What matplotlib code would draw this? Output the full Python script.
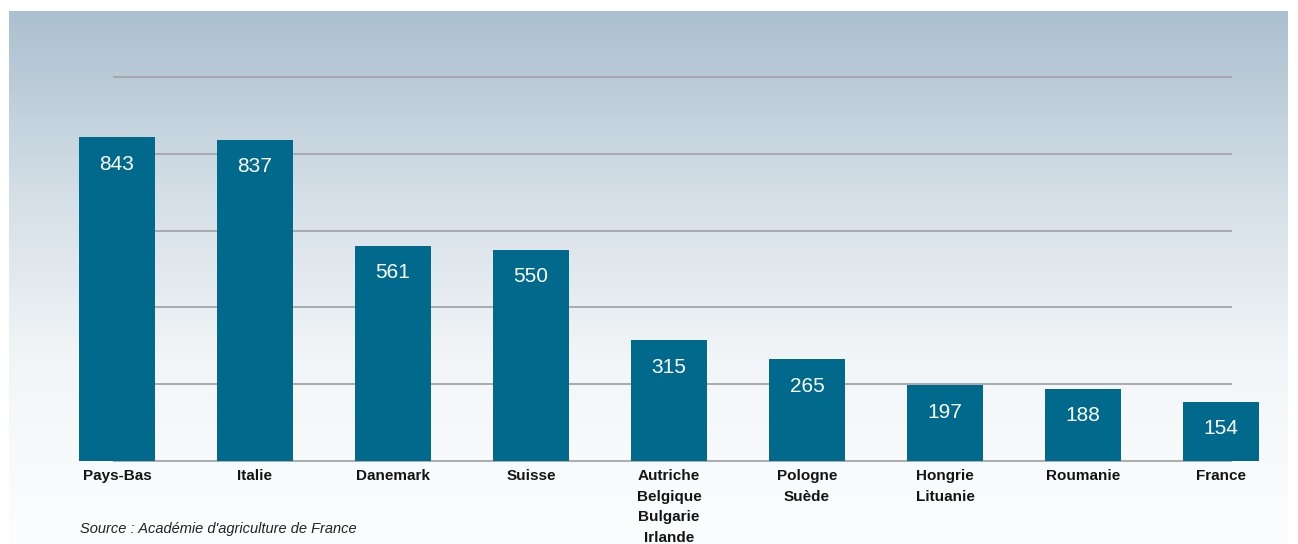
import numpy as np
import matplotlib
matplotlib.use("Agg")
import matplotlib.pyplot as plt
from matplotlib.colors import LinearSegmentedColormap

# data
categories = ["Pays-Bas", "Italie", "Danemark", "Suisse",
              "Autriche\nBelgique\nBulgarie\nIrlande", "Pologne\nSuède",
              "Hongrie\nLituanie", "Roumanie", "France"]
values = [843, 837, 561, 550, 315, 265, 197, 188, 154]
grid_levels = [200, 400, 600, 800, 1000]
source = "Source : Académie d'agriculture de France"

plt.rcParams['font.family'] = ['Liberation Sans', 'DejaVu Sans']

W, H = 1298, 544
fig = plt.figure(figsize=(W / 100, H / 100), dpi=100)
fig.patch.set_facecolor("white")

# gradient panel
bg = fig.add_axes([9 / W, 0, 1279 / W, (H - 11) / H])
cmap = LinearSegmentedColormap.from_list("bg", ["#abc0cf", "#d3dee6", "#f3f6f8", "#fcfdfe"])
grad = np.linspace(0, 1, 256).reshape(-1, 1)
bg.imshow(grad, aspect="auto", cmap=cmap, extent=[0, 1, 0, 1])
bg.axis("off")

# main axes over the same panel
ax = fig.add_axes([9 / W, 0, 1279 / W, (H - 11) / H])
ax.patch.set_alpha(0)
px = 0.384  # pixels per unit
x = np.arange(len(values))
ax.set_xlim((9 - 117) / 138, (1288 - 117) / 138)
ax.set_ylim(-(H - 461) / px, (461 - 11) / px)

x0, x1 = (113 - 117) / 138, (1232 - 117) / 138
ax.hlines(grid_levels, x0, x1, color="#a3a6a9", lw=1.3, zorder=1)
ax.hlines([0], x0, x1, color="#a3a6a9", lw=1.3, zorder=1)

ax.bar(x, values, width=76 / 138, color="#00698c", zorder=2)

for i, v in enumerate(values):
    ax.text(i, v - 27 / px, str(v), ha="center", va="center",
            color="white", fontsize=15, zorder=3)
    ax.text(i, -8 / px, categories[i], ha="center", va="top",
            fontsize=11, fontweight="bold", color="#141414",
            linespacing=1.6, zorder=3)

ax.axis("off")

fig.text(80 / W, 1 - 529 / H, source, fontsize=10.5, style="italic",
         color="#222222", va="center", ha="left")

fig.savefig("out.png", dpi=100)
